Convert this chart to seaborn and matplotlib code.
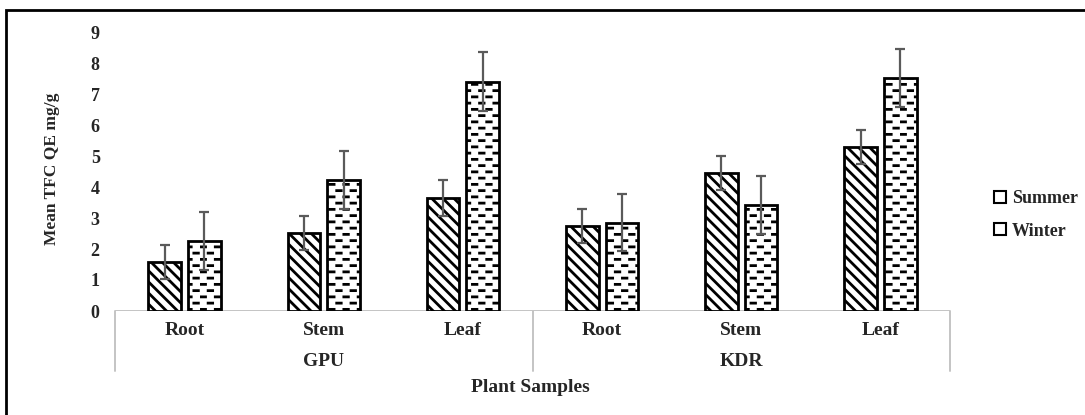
import numpy as np
import pandas as pd
import matplotlib
matplotlib.use('Agg')
import matplotlib.pyplot as plt
import matplotlib.hatch as mhatch
from matplotlib.path import Path as MPath
from matplotlib.patches import Patch, Rectangle
import seaborn as sns

# ---------------- data ----------------
SITES = ['GPU', 'KDR']
PARTS = ['Root', 'Stem', 'Leaf']
SEASONS = ['Summer', 'Winter']

summer_mean = [1.58, 2.52, 3.65, 2.74, 4.45, 5.30]
winter_mean = [2.26, 4.23, 7.40, 2.85, 3.42, 7.51]
summer_err = [0.55, 0.54, 0.58, 0.54, 0.55, 0.55]
winter_err = [0.93, 0.93, 0.94, 0.92, 0.93, 0.93]

Y_TICKS = list(range(0, 10))

# ---------------- custom hatches (dashed rows + denser diagonals) ----------------
class DashHatch(mhatch.HatchPatternBase):
    def __init__(self, hatch, density):
        self.rows = 16 * hatch.count('-')
        self.ndash = 7
        self.num_vertices = self.rows * self.ndash * 2

    def set_vertices_and_codes(self, vertices, codes):
        period = 1.0 / self.ndash
        dash = 0.045
        k = 0
        for i in range(self.rows):
            y = (i + 0.5) / self.rows
            off = (i % 2) * period / 2
            for j in range(self.ndash):
                x0 = off + j * period + 0.01
                vertices[k] = (x0, y)
                vertices[k + 1] = (x0 + dash, y)
                codes[k] = MPath.MOVETO
                codes[k + 1] = MPath.LINETO
                k += 2


class DiagHatch(mhatch.HatchPatternBase):
    def __init__(self, hatch, density):
        self.num_lines = 18 * hatch.count('\\')
        self.num_vertices = (self.num_lines + 1) * 2 if self.num_lines else 0

    def set_vertices_and_codes(self, vertices, codes):
        steps = np.linspace(-0.5, 0.5, self.num_lines + 1)
        vertices[0::2, 0] = 0.0 + steps
        vertices[0::2, 1] = 1.0 + steps
        vertices[1::2, 0] = 1.0 + steps
        vertices[1::2, 1] = 0.0 + steps
        codes[0::2] = MPath.MOVETO
        codes[1::2] = MPath.LINETO


mhatch._hatch_types = [DashHatch if t is mhatch.HorizontalHatch else
                       DiagHatch if t is mhatch.SouthEastHatch else t
                       for t in mhatch._hatch_types]

# ---------------- style ----------------
sns.set_style('white')
plt.rcParams['font.family'] = ['Liberation Serif', 'DejaVu Serif']
plt.rcParams['font.weight'] = 'bold'
plt.rcParams['hatch.linewidth'] = 2.0
plt.rcParams['hatch.color'] = 'black'

samples = [f'{s} {p}' for s in SITES for p in PARTS]
df = pd.DataFrame({
    'sample': samples * 2,
    'season': ['Summer'] * 6 + ['Winter'] * 6,
    'value': summer_mean + winter_mean,
})
errs = {'Summer': summer_err, 'Winter': winter_err}
hatches = {'Summer': '\\', 'Winter': '-'}

W, H = 1085, 415
fig = plt.figure(figsize=(W / 100, H / 100), dpi=100)
ax = fig.add_axes([115 / W, 104 / H, 835 / W, 279 / H])

sns.barplot(data=df, x='sample', y='value', hue='season', order=samples,
            hue_order=SEASONS, palette={'Summer': 'white', 'Winter': 'white'},
            width=0.57, gap=0.18, errorbar=None, edgecolor='black',
            linewidth=2, legend=False, ax=ax)

for season, cont in zip(SEASONS, ax.containers):
    xs = []
    for bar in cont:
        bar.set_hatch(hatches[season])
        xs.append(bar.get_x() + bar.get_width() / 2)
    hs = [bar.get_height() for bar in cont]
    ax.errorbar(xs, hs, yerr=errs[season], fmt='none', ecolor='#5a5a5a',
                elinewidth=1.6, capsize=3.6, capthick=1.6, zorder=5)

ax.set_xlim(-0.5, 5.5)
ax.set_ylim(0, 9)
ax.set_yticks(Y_TICKS)
ax.set_yticklabels([str(t) for t in Y_TICKS], fontsize=13, fontweight='bold')
ax.set_xticks(range(6))
ax.set_xticklabels(PARTS * 2, fontsize=14, fontweight='bold')
ax.tick_params(axis='x', length=0, pad=8)
ax.tick_params(axis='y', length=0, pad=11)
for sp in ax.spines.values():
    sp.set_visible(False)

# category box
grey = '#c4c4c4'
ax.axhline(0, color=grey, lw=1.4, zorder=0)
tr = ax.get_xaxis_transform()
for xv in [-0.5, 2.5, 5.5]:
    ax.plot([xv, xv], [0, -0.214], transform=tr, color=grey, lw=1.4, clip_on=False)
for i, site in enumerate(SITES):
    ax.text(1 + 3 * i, -0.18, site, transform=tr, ha='center', va='center',
            fontsize=14, fontweight='bold')

ax.set_xlabel('Plant Samples', fontsize=14, fontweight='bold')
ax.xaxis.set_label_coords(0.497, -0.243)
ax.set_ylabel('Mean TFC QE mg/g', fontsize=12.5, fontweight='bold')
ax.yaxis.set_label_coords(-0.066, 0.51)

handles = [Patch(facecolor='white', edgecolor='black', linewidth=1.5, label=s)
           for s in SEASONS]
fig.legend(handles=handles, loc='center left', bbox_to_anchor=(985 / W, 1 - 215 / H),
           frameon=False, fontsize=13, handlelength=0.65, handleheight=0.65,
           handletextpad=0.35, labelspacing=0.85, borderpad=0)

# outer frame
fig.add_artist(Rectangle((6 / W, -0.1), 1.2, (H - 10) / H + 0.1,
                         transform=fig.transFigure, fill=False,
                         edgecolor='black', lw=2))

fig.savefig('out.png', dpi=100, facecolor='white')
